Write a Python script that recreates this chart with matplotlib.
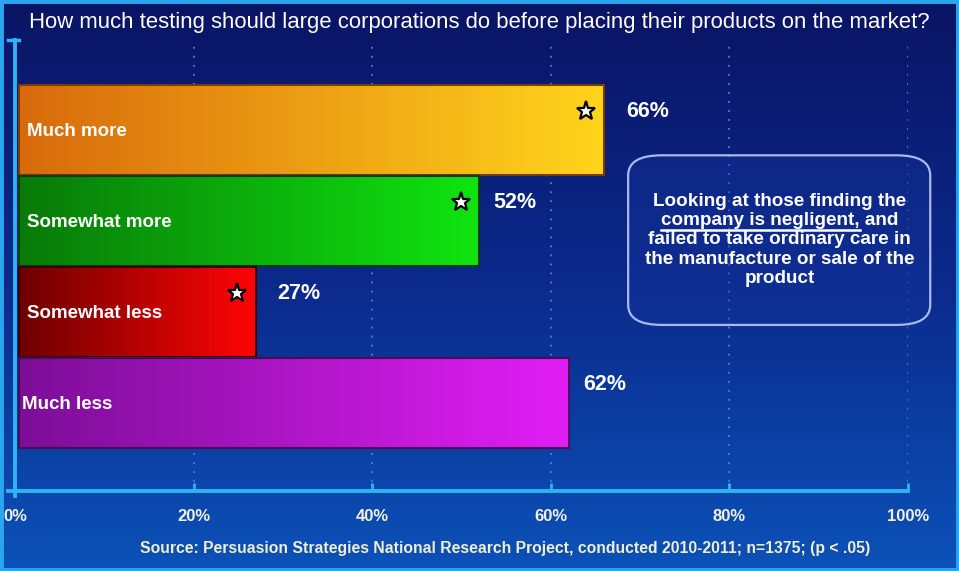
import numpy as np
import matplotlib.pyplot as plt
from matplotlib.colors import LinearSegmentedColormap
from matplotlib.patches import FancyBboxPatch, Rectangle
from matplotlib.lines import Line2D

plt.rcParams['font.family'] = ['Liberation Sans', 'DejaVu Sans']

categories = ['Much more', 'Somewhat more', 'Somewhat less', 'Much less']
percents = [66, 52, 27, 62]
starred = [True, True, True, False]
bar_left = ['#d96a0c', '#087a08', '#6e0000', '#7c0e98']
bar_right = ['#ffd51c', '#10e410', '#ff0505', '#e21ef6']
bar_edge = ['#7a3a00', '#0a3d0a', '#3a0000', '#4a0a5a']
ticks = [0, 20, 40, 60, 80, 100]
tick_labels = ['0%', '20%', '40%', '60%', '80%', '100%']

title = 'How much testing should large corporations do before placing their products on the market?'
source = 'Source: Persuasion Strategies National Research Project, conducted 2010-2011; n=1375; (p < .05)'
note_lines = ['Looking at those finding the',
              'company is negligent, and',
              'failed to take ordinary care in',
              'the manufacture or sale of the',
              'product']
underlined = 'company is negligent,'

narrow = ['Liberation Sans Narrow', 'Liberation Sans', 'DejaVu Sans']

fig = plt.figure(figsize=(9.59, 5.71), dpi=100)

# background gradient over the whole figure
bg = fig.add_axes([0, 0, 1, 1], zorder=-5)
grad = np.linspace(0, 1, 256).reshape(-1, 1)
bg_cmap = LinearSegmentedColormap.from_list('bg', ['#0a1464', '#0b2a8c', '#0c52b8'])
bg.imshow(grad, cmap=bg_cmap, aspect='auto', extent=(0, 1, 0, 1), origin='upper')
bg.set_xlim(0, 1)
bg.set_ylim(0, 1)
bg.axis('off')
fig.patches.append(Rectangle((0.0015, 0.0025), 0.997, 0.995, transform=fig.transFigure,
                             fill=False, edgecolor='#2aa6ee', lw=3.5, zorder=10))

ax = fig.add_axes([0.0156, 0.140, 0.9312, 0.790])
ax.patch.set_alpha(0)
ypos = np.arange(len(categories))[::-1]
h = 0.99

for i, (cat, val, y) in enumerate(zip(categories, percents, ypos)):
    cmap = LinearSegmentedColormap.from_list(cat, [bar_left[i], bar_right[i]])
    ax.imshow(np.linspace(0, 1, 128).reshape(1, -1), cmap=cmap, aspect='auto',
              extent=(0.4, val, y - h / 2, y + h / 2), zorder=3)
    ax.add_patch(Rectangle((0.4, y - h / 2), val - 0.4, h, fill=False,
                           edgecolor=bar_edge[i], lw=1.5, zorder=4))
    ax.text(1.3 if i < 3 else 0.8, y - 0.02, cat, color='white', fontsize=13.5,
            fontweight='bold', va='center', ha='left', zorder=5)
    ax.text(val + (1.6 if i % 2 else 2.4), y + 0.2, f'{val}%', color='white',
            fontsize=15.5, fontweight='bold', va='center', ha='left', zorder=5)
    if starred[i]:
        ax.plot(val - 2.1, y + 0.21, marker='*', ms=14, mfc='white', mec='black',
                mew=1.6, zorder=6)

ax.set_xlim(0, 100)
ax.set_ylim(-0.967, 3.989)
ax.set_xticks(ticks)
ax.set_xticklabels(tick_labels)
ax.set_yticks([])
for x in ticks[1:]:
    ax.axvline(x, color='#4f80d6', lw=1.3, ls=(0, (1, 4)), zorder=1)

for side in ['top', 'right']:
    ax.spines[side].set_visible(False)
for side in ['left', 'bottom']:
    ax.spines[side].set_color('#2eb4f2')
    ax.spines[side].set_linewidth(2.8)
ax.spines['bottom'].set_bounds(-0.8, 100)
ax.tick_params(axis='x', direction='in', length=6, width=2, color='#2eb4f2', pad=13,
               labelsize=12, labelcolor='#f2f0e2')
for lbl in ax.get_xticklabels():
    lbl.set_fontweight('bold')
    lbl.set_family(narrow)
# small stub at the top of the y axis and overhang below the x axis
ax.plot([-0.8, 0.4], [3.989, 3.989], color='#2eb4f2', lw=2.5, clip_on=False, zorder=5)
ax.plot([0, 0], [-0.967, -1.02], color='#2eb4f2', lw=2.8, clip_on=False, zorder=5)

fig.text(0.500, 0.961, title, color='white', fontsize=15.9, ha='center', va='center')
fig.text(0.527, 0.040, source, color='#f0eed0', fontsize=11.3, fontweight='bold',
         ha='center', va='center', family=narrow)

# note box
for kw in [dict(facecolor='#1636a0', alpha=0.35, edgecolor='none', zorder=2),
           dict(fill=False, edgecolor='#a8b8f0', lw=1.6, zorder=3)]:
    fig.patches.append(FancyBboxPatch((0.655, 0.431), 0.315, 0.297, transform=fig.transFigure,
                                      boxstyle='round,pad=0,rounding_size=0.035', **kw))
line_y = [0.647, 0.613, 0.580, 0.546, 0.512]
note_texts = []
for txt, yy in zip(note_lines, line_y):
    note_texts.append(fig.text(0.813, yy, txt, color='white', fontsize=13.6, fontweight='bold',
                               ha='center', va='center', zorder=5))

# underline the first part of the second note line
fig.canvas.draw()
r = fig.canvas.get_renderer()
full = note_texts[1].get_window_extent(r)
part = fig.text(0, 0, underlined, fontsize=13.6, fontweight='bold')
pw = part.get_window_extent(r).width
part.remove()
x0 = full.x0 / fig.bbox.width
x1 = (full.x0 + pw) / fig.bbox.width
uy = (full.y0 - 1) / fig.bbox.height
fig.lines.append(Line2D([x0, x1], [uy, uy], transform=fig.transFigure, color='white',
                        lw=1.8, zorder=5))

fig.savefig('out.png', dpi=100)
